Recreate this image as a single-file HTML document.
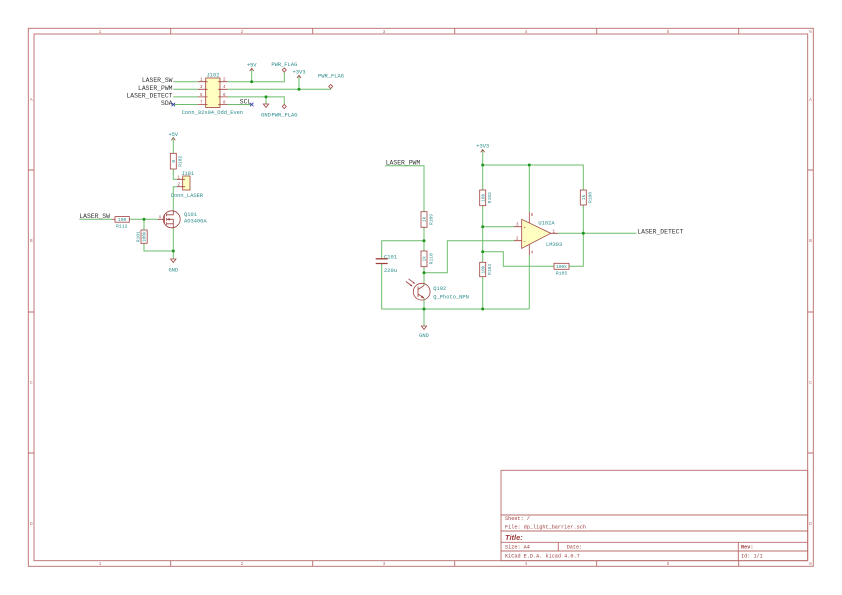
<!DOCTYPE html>
<html><head><meta charset="utf-8">
<style>
html,body{margin:0;padding:0;background:#fff;}
svg{display:block}
text{font-family:"Liberation Mono","DejaVu Sans Mono",monospace;}
.b{fill:none;stroke:#b86b6b;stroke-width:0.9}
.w{fill:none;stroke:#6cbc6c;stroke-width:1}
.c{fill:none;stroke:#a0403f;stroke-width:0.8}
.y{fill:#ffffc2;stroke:#a0403f;stroke-width:0.8}
.j{fill:#1f961f}
.nl{fill:#333;font-size:6.4px}
.t{fill:#2a8a8a;font-size:5.4px}
.r{fill:#a0403f;font-size:4.2px}
.v{fill:#2a8a8a;font-size:4.6px}
.bl{fill:#b86b6b;font-size:4.6px}
.tb{fill:#a03c3c;font-size:5.2px}
.nc{stroke:#3a3ab0;stroke-width:0.8}
</style></head><body>
<svg width="842" height="595" viewBox="0 0 842 595" xmlns="http://www.w3.org/2000/svg">
<!-- Border -->
<rect class="b" x="28.3" y="28.3" width="785" height="538"/>
<rect class="b" x="34" y="34" width="773.7" height="526.7"/>
<g class="b">
<path d="M170.7 28.3V34M312.7 28.3V34M454.7 28.3V34M596.7 28.3V34M738.7 28.3V34"/>
<path d="M170.7 560.7V566.3M312.7 560.7V566.3M454.7 560.7V566.3M596.7 560.7V566.3M738.7 560.7V566.3"/>
<path d="M28.3 170H34M28.3 312H34M28.3 453H34M807.7 170H813.3M807.7 312H813.3M807.7 453H813.3"/>
</g>
<g class="bl" text-anchor="middle">
<text x="100" y="33">1</text><text x="242" y="33">2</text><text x="384" y="33">3</text><text x="526" y="33">4</text><text x="668" y="33">5</text><text x="810.5" y="33">6</text>
<text x="100" y="565">1</text><text x="242" y="565">2</text><text x="384" y="565">3</text><text x="526" y="565">4</text><text x="668" y="565">5</text><text x="810.5" y="565">6</text>
<text x="31.2" y="101">A</text><text x="31.2" y="242">B</text><text x="31.2" y="384">C</text><text x="31.2" y="525">D</text>
<text x="810.5" y="101">A</text><text x="810.5" y="242">B</text><text x="810.5" y="384">C</text><text x="810.5" y="525">D</text>
</g>
<!-- Title block -->
<rect class="b" x="501" y="470.3" width="306.7" height="90.4"/>
<path class="b" d="M501 515H807.7M501 531H807.7M501 542.3H807.7M501 551H807.7M558.3 542.3V551M738.3 542.3V560.7"/>
<text class="tb" x="505" y="520">Sheet: /</text>
<text class="tb" x="505" y="528.5">File: dp_light_barrier.sch</text>
<text x="505" y="539.8" style="font-family:'Liberation Sans',sans-serif;font-size:7.5px;font-weight:bold;font-style:italic;fill:#a03c3c">Title:</text>
<text class="tb" x="505" y="548.6">Size: A4</text>
<text class="tb" x="566.7" y="548.6">Date:</text>
<text class="tb" x="741" y="548.6" style="font-weight:bold">Rev:</text>
<text class="tb" x="505" y="557.5">KiCad E.D.A.  kicad 4.0.7</text>
<text class="tb" x="741" y="557.5">Id: 1/1</text>

<!-- ===== J102 connector ===== -->
<rect class="y" x="205.7" y="78" width="14.3" height="29.5"/>
<g class="c">
<path d="M198 81.7H205.7M198 89.3H205.7M198 96.9H205.7M198 104.5H205.7"/>
<path d="M220 81.7H227.5M220 89.3H227.5M220 96.9H227.5M220 104.5H227.5"/>
<path d="M205.7 81.7H207.5M205.7 89.3H207.5M205.7 96.9H207.5M205.7 104.5H207.5M218.2 81.7H220M218.2 89.3H220M218.2 96.9H220M218.2 104.5H220"/>
</g>
<g class="r">
<text x="200" y="80.6">1</text><text x="200" y="88.2">3</text><text x="200" y="95.8">5</text><text x="200" y="103.4">7</text>
<text x="223" y="80.6">2</text><text x="223" y="88.2">4</text><text x="223" y="95.8">6</text><text x="223" y="103.4">8</text>
</g>
<text class="t" x="206.5" y="76.5">J102</text>
<text class="t" x="181.7" y="113.8">Conn_02x04_Odd_Even</text>
<g class="w">
<path d="M173.3 81.7H198M173.3 89.3H198M173.3 96.9H198M173.3 104.5H198"/>
<path d="M227.5 81.7H284.3V72"/>
<path d="M227.5 89.3H330.7V88.5"/>
<path d="M227.5 96.9H284.3V104.5"/>
<path d="M227.5 104.5H251.7"/>
<path d="M251.7 81.7V68.5"/>
<path d="M299 89.3V75.5"/>
<path d="M266 96.9V104"/>
</g>
<g class="nl" text-anchor="end">
<text x="172.5" y="82.2">LASER_SW</text>
<text x="172.5" y="89.8">LASER_PWM</text>
<text x="172.5" y="97.4">LASER_DETECT</text>
<text x="172.5" y="105">SDA</text>
</g>
<text class="nl" x="239.8" y="103.3">SCL</text>
<path class="nc" d="M171.5 102.7L175.1 106.3M175.1 102.7L171.5 106.3"/>
<path class="nc" d="M249.9 102.7L253.5 106.3M253.5 102.7L249.9 106.3"/>
<circle class="j" cx="251.7" cy="81.7" r="1.5"/>
<circle class="j" cx="299" cy="89.3" r="1.5"/>
<circle class="j" cx="266" cy="96.9" r="1.5"/>
<!-- power symbols -->
<path class="c" d="M249.7 71L251.7 68.3L253.7 71"/>
<text class="t" x="251.7" y="66.5" text-anchor="middle">+5V</text>
<path class="c" d="M297 78L299 75.3L301 78"/>
<text class="t" x="299" y="73.3" text-anchor="middle">+3V3</text>
<path class="c" d="M284.3 72L286.3 70L284.3 68L282.3 70Z"/>
<text class="t" x="284.3" y="65.8" text-anchor="middle">PWR_FLAG</text>
<path class="c" d="M330.7 88.5L332.7 86.5L330.7 84.5L328.7 86.5Z"/>
<text class="t" x="331" y="77.5" text-anchor="middle">PWR_FLAG</text>
<path class="c" d="M263.3 104H268.7L266 107.5Z"/>
<path class="c" d="M284.3 104.5L286.3 106.5L284.3 108.5L282.3 106.5Z"/>
<text class="t" x="266" y="116.6" text-anchor="middle">GND</text>
<text class="t" x="284.5" y="116.6" text-anchor="middle">PWR_FLAG</text>

<!-- ===== Laser driver ===== -->
<path class="c" d="M171.3 140.3L173.3 137.5L175.3 140.3"/>
<text class="t" x="173.3" y="135.8" text-anchor="middle">+5V</text>
<g class="w">
<path d="M173.3 137.5V153.3"/>
<path d="M173.3 169V179.3H177"/>
<path d="M177 186.7H173.3V210.5"/>
<path d="M173.3 228V251H144V243.3"/>
<path d="M144 230V219.3"/>
<path d="M79.3 219.3H112"/>
<path d="M129.3 219.3H158"/>
<path d="M173.3 251V259"/>
</g>
<rect class="c" x="170.3" y="153.3" width="6" height="15.7"/>
<text class="v" transform="translate(175,161.2) rotate(-90)" text-anchor="middle">0</text>
<text class="v" transform="translate(181.5,161.2) rotate(-90)" text-anchor="middle">R102</text>
<rect class="y" x="182.7" y="176" width="7.3" height="14"/>
<path class="c" d="M177 179.3H185M177 186.7H185"/>
<text class="r" x="177.5" y="178.3">1</text>
<text class="r" x="177.5" y="185.7">2</text>
<text class="t" x="181.2" y="175.2">J101</text>
<text class="t" x="170.7" y="196.8">Conn_LASER</text>
<!-- MOSFET -->
<circle class="c" cx="171.7" cy="219.3" r="8.5"/>
<path class="c" d="M158 219.3H164.5M164.5 214.5V224.2M166.6 213.5V216.2M166.6 218V220.6M166.6 222.4V225.1M166.6 214.8H173.3V210.5M166.6 223.8H173.3V228M166.6 219.3H173.3V223.8"/>
<path d="M167 219.3L169.6 217.9V220.7Z" fill="#a0403f"/>
<text class="r" x="159" y="218" style="font-size:3.4px">G</text>
<text class="t" x="184" y="216">Q101</text>
<text class="t" x="184" y="222.6">AO3400A</text>
<text class="nl" x="79.3" y="217.9">LASER_SW</text>
<path class="c" d="M112 219.3H115"/>
<rect class="c" x="115" y="216.6" width="14.3" height="5.6"/>
<text class="v" x="122.2" y="221.1" text-anchor="middle">100</text>
<text class="t" x="116" y="227.3" style="font-size:4.8px">R112</text>
<rect class="c" x="141" y="230" width="6.2" height="13.3"/>
<text class="v" transform="translate(145.7,236.7) rotate(-90)" text-anchor="middle">100k</text>
<text class="v" transform="translate(139.3,236.7) rotate(-90)" text-anchor="middle">R101</text>
<circle class="j" cx="144" cy="219.3" r="1.5"/>
<circle class="j" cx="173.3" cy="251" r="1.5"/>
<path class="c" d="M170.6 259H176L173.3 262.5Z"/>
<text class="t" x="173.3" y="271.5" text-anchor="middle">GND</text>

<!-- ===== Light barrier ===== -->
<text class="nl" x="385.7" y="164.6">LASER_PWM</text>
<g class="w">
<path d="M385.3 165.7H424V211.7"/>
<path d="M424 227.3V251"/>
<path d="M424 240.7H381.7V258.8"/>
<path d="M381.7 263.5V309H529.3"/>
<path d="M424 266.7V285.5"/>
<path d="M424 272.7H447.3V240.7H514"/>
<path d="M424 298V326"/>
<path d="M482.7 149.5V190"/>
<path d="M482.7 165H583.3V190"/>
<path d="M529.3 165V212"/>
<path d="M482.7 205.7V262.3"/>
<path d="M482.7 276.7V309"/>
<path d="M482.7 226.7H514"/>
<path d="M482.7 251.7H503.3V266.3H554"/>
<path d="M569 266.3H583.3V205"/>
<path d="M558 233.3H636.5"/>
<path d="M529.3 255V309"/>
</g>
<!-- R109, R110 -->
<rect class="c" x="421" y="211.7" width="6" height="15.6"/>
<text class="v" transform="translate(425.7,219.5) rotate(-90)" text-anchor="middle">1k</text>
<text class="v" transform="translate(432.3,219.5) rotate(-90)" text-anchor="middle">R109</text>
<rect class="c" x="421" y="251" width="6" height="15.7"/>
<text class="v" transform="translate(425.7,258.8) rotate(-90)" text-anchor="middle">1k</text>
<text class="v" transform="translate(432.3,258.8) rotate(-90)" text-anchor="middle">R110</text>
<!-- C101 -->
<path d="M375.7 258.8H387.7M375.7 263.5H387.7" stroke="#a0403f" stroke-width="1.3" fill="none"/>
<text class="t" x="384" y="258.4">C101</text>
<text class="t" x="384" y="272">220u</text>
<!-- Q102 photo -->
<circle class="c" cx="421.7" cy="291.7" r="8.4"/>
<path class="c" d="M418 286.5V297M418 289.5L424 285.5M418 294L424 298"/>
<path d="M424 298.3L421 297.6L422.5 295.5Z" fill="#a0403f"/>
<path class="c" d="M406 281.5L412 286M408.5 278.8L414.5 283.3"/>
<path d="M412.6 286.4L410 285.9L411.3 284.4Z M415.1 283.7L412.5 283.2L413.8 281.7Z" fill="#a0403f"/>
<text class="t" x="433.3" y="290.2">Q102</text>
<text class="t" x="433.3" y="298.6">Q_Photo_NPN</text>
<path class="c" d="M421.3 326H426.7L424 329.5Z"/>
<text class="t" x="424" y="337" text-anchor="middle">GND</text>
<!-- +3V3 -->
<path class="c" d="M480.7 152.3L482.7 149.5L484.7 152.3"/>
<text class="t" x="482.7" y="147.3" text-anchor="middle">+3V3</text>
<!-- R103 R104 R108 R105 -->
<rect class="c" x="479.7" y="190" width="6" height="15.7"/>
<text class="v" transform="translate(484.4,197.8) rotate(-90)" text-anchor="middle">10k</text>
<text class="v" transform="translate(491,197.8) rotate(-90)" text-anchor="middle">R103</text>
<rect class="c" x="479.7" y="262.3" width="6" height="14.4"/>
<text class="v" transform="translate(484.4,269.5) rotate(-90)" text-anchor="middle">10k</text>
<text class="v" transform="translate(491,269.5) rotate(-90)" text-anchor="middle">R104</text>
<rect class="c" x="580.3" y="190" width="6" height="15"/>
<text class="v" transform="translate(585,197.5) rotate(-90)" text-anchor="middle">1k</text>
<text class="v" transform="translate(591.6,197.5) rotate(-90)" text-anchor="middle">R108</text>
<rect class="c" x="554" y="263.3" width="15" height="6"/>
<text class="v" x="561.5" y="268" text-anchor="middle">100k</text>
<text class="t" x="561.5" y="274.3" text-anchor="middle" style="font-size:4.8px">R105</text>
<!-- Opamp -->
<path class="c" d="M514 226.7H521.7M514 240.7H521.7M529.3 212V223M529.3 244.4V255M550.7 233.3H558"/>
<path class="y" d="M521.7 219.3L550.7 233.3L521.7 248.3Z"/>
<text class="r" x="516" y="225.6">3</text>
<text class="r" x="516" y="239.6">2</text>
<text class="r" x="530.6" y="216">8</text>
<text class="r" x="530.6" y="253.5">4</text>
<text class="r" x="552.5" y="232.3">1</text>
<text class="r" x="523.2" y="229" style="font-size:4.6px">+</text>
<text class="r" x="523.2" y="243" style="font-size:4.6px">−</text>
<text class="t" x="538.4" y="224.6">U102A</text>
<text class="t" x="546" y="246.2">LM393</text>
<text class="nl" x="637.3" y="233.4">LASER_DETECT</text>
<!-- junctions -->
<g class="j">
<circle cx="424" cy="240.7" r="1.5"/>
<circle cx="424" cy="272.7" r="1.5"/>
<circle cx="424" cy="309" r="1.5"/>
<circle cx="482.7" cy="309" r="1.5"/>
<circle cx="482.7" cy="165" r="1.5"/>
<circle cx="529.3" cy="165" r="1.5"/>
<circle cx="482.7" cy="226.7" r="1.5"/>
<circle cx="482.7" cy="251.7" r="1.5"/>
<circle cx="583.3" cy="233.3" r="1.5"/>
</g>
</svg>
</body></html>
